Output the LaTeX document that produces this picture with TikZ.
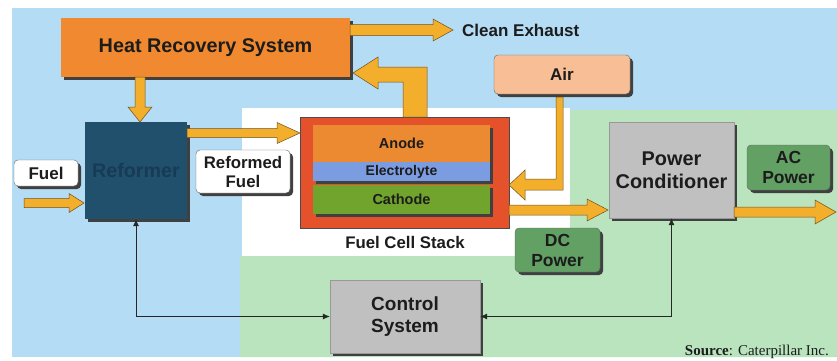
\documentclass[tikz,border=0pt]{standalone}
\usepackage{fontspec}
\setmainfont{Liberation Sans}
\newfontfamily\srcfont{Liberation Serif}
\usetikzlibrary{shadows,arrows.meta}
\definecolor{bgblue}{HTML}{B4DCF4}
\definecolor{bggreen}{HTML}{BAE4BE}
\definecolor{hrsorange}{HTML}{F0892F}
\definecolor{refblue}{HTML}{21506D}
\definecolor{reftext}{HTML}{173B54}
\definecolor{stackred}{HTML}{E4512B}
\definecolor{anodeor}{HTML}{EC8A31}
\definecolor{electro}{HTML}{7C9CE2}
\definecolor{cathgreen}{HTML}{70A42D}
\definecolor{airpeach}{HTML}{F8BE96}
\definecolor{boxgrey}{HTML}{C0C0C0}
\definecolor{boxgreen}{HTML}{62A064}
\definecolor{arrowfill}{HTML}{F3AE2B}
\definecolor{arrowline}{HTML}{6E5220}
\definecolor{txt}{HTML}{1C1C1C}
\newcommand\hArr[6]{% x start, x tip, y, shaft half, head half, head length (signed)
  \filldraw[bigarrow] (#1,{#3-#4}) -- ({#2-(#6)},{#3-#4}) -- ({#2-(#6)},{#3-#5}) -- (#2,#3)
    -- ({#2-(#6)},{#3+#5}) -- ({#2-(#6)},{#3+#4}) -- (#1,{#3+#4}) -- cycle;}
\newcommand\vArr[6]{% y start, y tip, x, shaft half, head half, head length
  \filldraw[bigarrow] ({#3-#4},#1) -- ({#3-#4},{#2-(#6)}) -- ({#3-#5},{#2-(#6)}) -- (#3,#2)
    -- ({#3+#5},{#2-(#6)}) -- ({#3+#4},{#2-(#6)}) -- ({#3+#4},#1) -- cycle;}
\tikzset{
  shad/.style={drop shadow={shadow xshift=3pt,shadow yshift=-3pt,fill=black!75,opacity=1}},
  box/.style={rectangle,inner sep=0pt,align=center,text=txt,font=\bfseries},
  rbox/.style={box,rounded corners=4pt,draw=black!60,line width=0.4pt,shad},
  bigarrow/.style={fill=arrowfill,draw=arrowline,line width=0.5pt,line join=miter},
  ctrlline/.style={draw=black!85,line width=0.7pt,{Latex[length=7pt,width=6pt]}-{Latex[length=7pt,width=6pt]}},
}
\begin{document}
\begin{tikzpicture}[x=1pt,y=-1pt]
\useasboundingbox (0,0) rectangle (837,360);
\fill[white] (0,0) rectangle (837,360);
% backgrounds
\fill[bgblue] (12,8) rectangle (837,357);
\fill[white] (242,108) rectangle (570,256);
\fill[bggreen] (570,110) -- (837,110) -- (837,357) -- (240,357) -- (240,256) -- (570,256) -- cycle;

% nodes
\node[box,fill=hrsorange,shad,minimum width=289pt,minimum height=59pt,font=\bfseries\fontsize{19.8}{22}\selectfont] (hrs) at (205.5,47.5) {Heat Recovery System};
\node[box,fill=refblue,shad,minimum width=102pt,minimum height=97pt,text=reftext,font=\bfseries\fontsize{19.7}{22}\selectfont] (ref) at (136,170.5) {Reformer};
\node[rbox,fill=white,minimum width=64pt,minimum height=26pt,font=\bfseries\fontsize{17}{19}\selectfont] (fuel) at (46,173) {Fuel};
\node[rbox,fill=white,minimum width=94pt,minimum height=43pt,font=\bfseries\fontsize{16.8}{19}\selectfont] (rfuel) at (243,171.5) {Reformed\\Fuel};
\node[box,fill=stackred,draw=black!70,line width=0.5pt,minimum width=209pt,minimum height=111pt] (stack) at (404.5,172.5) {};
\node[box,fill=anodeor,shad,minimum width=177pt,minimum height=37pt,font=\bfseries\fontsize{14.5}{16}\selectfont] (anode) at (401.5,143.5) {Anode};
\node[box,fill=electro,shad,minimum width=177pt,minimum height=19pt,font=\bfseries\fontsize{14}{16}\selectfont] (elec) at (401.5,171.5) {Electrolyte};
\node[box,fill=cathgreen,shad,minimum width=177pt,minimum height=29pt,font=\bfseries\fontsize{14.5}{16}\selectfont] (cath) at (401.5,199.5) {Cathode};
\node[box,font=\bfseries\fontsize{16.8}{19}\selectfont,anchor=center] (stacklbl) at (405,242) {Fuel Cell Stack};
\node[rbox,fill=airpeach,minimum width=136pt,minimum height=39pt,font=\bfseries\fontsize{17}{19}\selectfont] (air) at (562,74.5) {Air};
\node[box,fill=boxgrey,shad,draw=black!40,line width=0.3pt,minimum width=125pt,minimum height=96pt,font=\bfseries\fontsize{19.9}{22.5}\selectfont] (pc) at (671.5,170) {Power\\Conditioner};
\node[rbox,fill=boxgreen,minimum width=85pt,minimum height=44pt,font=\bfseries\fontsize{17.5}{20}\selectfont] (dc) at (557.5,250) {DC\\Power};
\node[rbox,fill=boxgreen,minimum width=83pt,minimum height=45pt,font=\bfseries\fontsize{17.5}{20}\selectfont] (ac) at (788.5,167.5) {AC\\Power};
\node[box,fill=boxgrey,shad,draw=black!40,line width=0.3pt,minimum width=150pt,minimum height=73pt,font=\bfseries\fontsize{19}{22}\selectfont] (ctrl) at (405,316.5) {Control\\System};
\node[box,anchor=west,font=\bfseries\fontsize{17}{19}\selectfont] (exh) at (462,30) {Clean Exhaust};
\node[anchor=east,inner sep=0pt,text=txt,font=\srcfont\fontsize{15}{17}\selectfont] (src) at (829,352) {\textbf{Source}: Caterpillar Inc.};

% thick arrows
\hArr{350}{453}{30}{5.5}{11}{20}
\vArr{77}{122}{140}{5}{12}{15}
\hArr{24}{84}{203}{4.5}{9.5}{15}
\hArr{187}{300}{133}{4.5}{10.5}{23}
\hArr{509}{608}{210}{5}{11}{21}
\hArr{734}{836}{212}{5}{12}{21}
\filldraw[bigarrow] (403,117) -- (403,82) -- (378,82) -- (378,89) -- (353,73) -- (378,57) -- (378,67) -- (427,67) -- (427,117) -- cycle;
\filldraw[bigarrow] (556,97) -- (556,179) -- (525,179) -- (525,170) -- (509,185) -- (525,200) -- (525,190) -- (563,190) -- (563,97) -- cycle;

% control connectors
\draw[ctrlline] (ref.south) |- (ctrl.west);
\draw[ctrlline] (ctrl.east) -| (pc.south);
\end{tikzpicture}
\end{document}
